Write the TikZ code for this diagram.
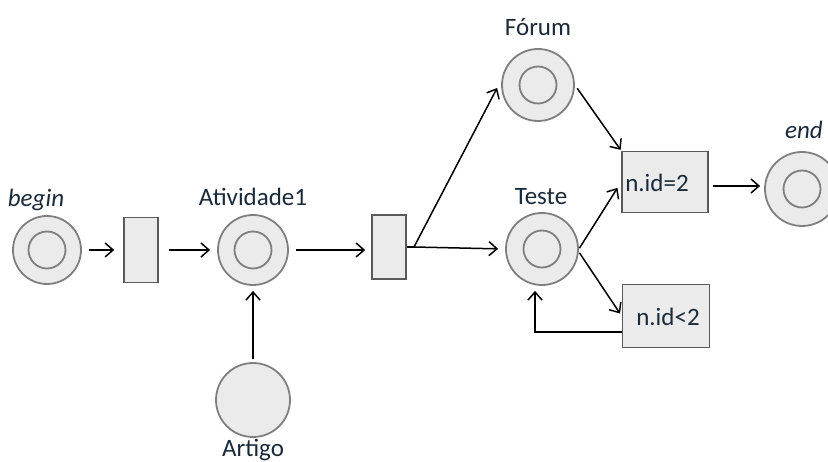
\documentclass[tikz,border=0pt]{standalone}
\usepackage{fontspec}
\setmainfont{Carlito}
\usetikzlibrary{arrows.meta}
\definecolor{pfill}{HTML}{EBEBEB}
\definecolor{pline}{HTML}{7F7F7F}
\definecolor{tline}{HTML}{5A5A5A}
\definecolor{txt}{HTML}{1A2A3A}
\begin{document}
\begin{tikzpicture}[x=1pt,y=-1pt,
  every node/.style={font=\fontsize{25}{29}\selectfont, text=txt},
  place/.style={circle, draw=pline, line width=1.8pt, fill=pfill, minimum size=#1, inner sep=0pt},
  place/.default=70pt,
  marked/.style={place=#1, path picture={\draw[pline, line width=1.8pt] (path picture bounding box.center) circle (18.5pt);}},
  marked/.default=70pt,
  trans/.style={rectangle, draw=tline, line width=1.6pt, fill=pfill, inner sep=0pt},
  lbl/.style={inner sep=0pt},
  arc/.style={draw=black, line width=1.5pt, -{Straight Barb[length=8pt,width=14pt,line width=1.5pt]}},
]
\useasboundingbox (0,0) rectangle (828,462);
\fill[white] (0,0) rectangle (828,462);

% places
\node[marked=68pt] (begin) at (47,250) {};
\node[marked] (ativ) at (253,250) {};
\node[place=74pt] (artigo) at (253,400) {};
\node[marked=72pt] (forum) at (538,85) {};
\node[marked=72pt] (teste) at (542,249) {};
\node[marked=74pt] (end) at (802,189) {};

% labels
\node[lbl, font=\fontsize{25}{29}\selectfont\itshape] (lbegin) at (36,200) {begin};
\node[lbl] (lativ) at (253,197) {Atividade1};
\node[lbl] (lforum) at (538,27) {Fórum};
\node[lbl] (lteste) at (541,197) {Teste};
\node[lbl] (lartigo) at (253,450) {Artigo};
\node[lbl, font=\fontsize{25}{29}\selectfont\itshape] (lend) at (804,130) {end};

% transitions
\node[trans, minimum width=34pt, minimum height=65pt] (t1) at (141,250) {};
\node[trans, minimum width=34pt, minimum height=64pt] (t2) at (389,247) {};
\node[trans, minimum width=86pt, minimum height=61pt] (n2) at (665,182) {};
\node[lbl] (n2txt) at (657,183) {n.id=2};
\node[trans, minimum width=87pt, minimum height=63pt] (nl) at (666,316) {};
\node[lbl] (nltxt) at (668,317) {n.id<2};

\coordinate (fork) at (414,247);

% arcs
\draw[arc, shorten <=7pt, shorten >=9pt] (begin) -- (t1);
\draw[arc, shorten <=10pt, shorten >=7pt] (t1) -- (ativ);
\draw[arc, shorten <=7pt, shorten >=6pt] (ativ) -- (t2.west |- ativ);
\draw[arc, shorten <=3pt, shorten >=5pt] (artigo) -- (ativ);
\draw[line width=1.5pt] (t2.east) -- (fork);
\draw[arc] (fork) -- ([xshift=-4pt,yshift=-3pt]forum.west);
\draw[arc, shorten >=7pt] (fork) -- (teste.west);
\draw[arc, shorten <=4pt, shorten >=1pt] (forum.east) -- (n2.north west);
\draw[arc, shorten <=1pt, shorten >=7pt] (teste.east) -- (n2.west);
\draw[arc, shorten <=1pt, shorten >=3pt] ([yshift=-3pt]teste.east) -- (nl.west);
\draw[arc] ([yshift=-16pt]nl.west) -| ([xshift=-7pt,yshift=-5pt]teste.south);
\draw[arc, shorten <=4pt, shorten >=4pt] (n2.east |- 0,186) -- (end.west |- 0,186);
\end{tikzpicture}
\end{document}
